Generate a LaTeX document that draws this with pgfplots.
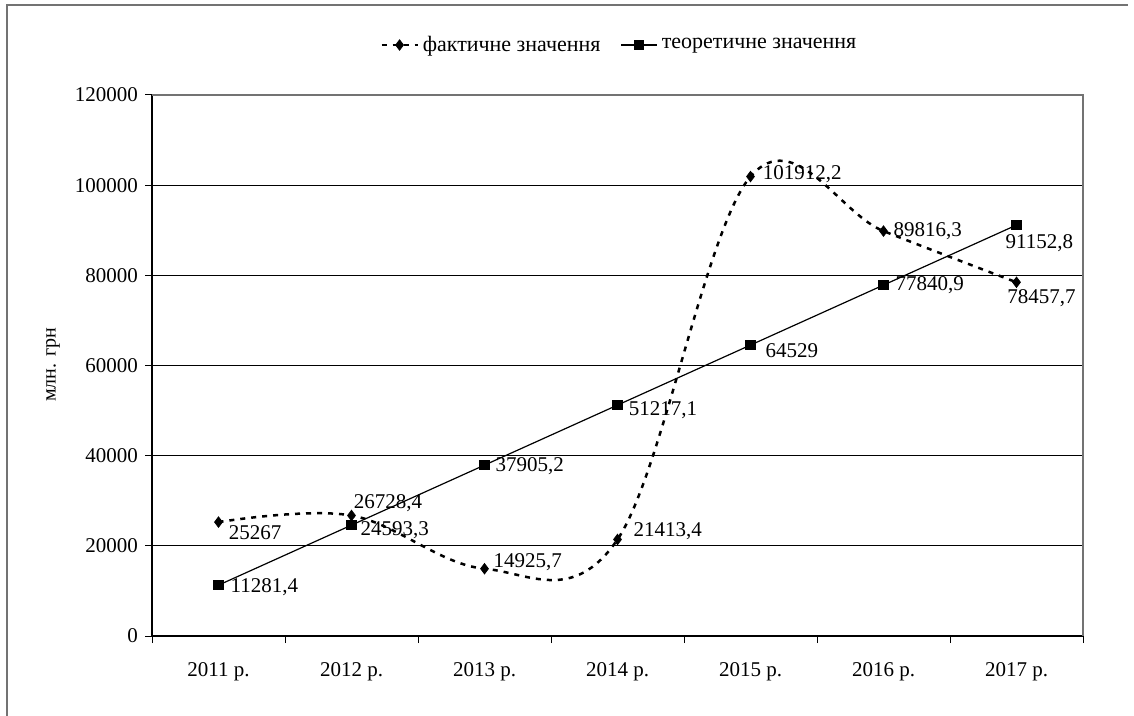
\documentclass[border=0pt]{standalone}
\usepackage{pgfplots}
\pgfplotsset{compat=1.18}
\usepackage{fontspec}
\setmainfont{Liberation Serif}
\begin{document}
\begin{tikzpicture}[font=\fontsize{10.5}{12.6}\selectfont]
\useasboundingbox (0,0) rectangle (567pt,-358pt);
\draw[black!55, line width=0.75pt] (3.5pt,-358pt) -- (3.5pt,-2.5pt) -- (564pt,-2.5pt);
\begin{axis}[
  at={(76pt,-318pt)}, anchor=south west,
  scale only axis, width=465.5pt, height=270.5pt,
  xmin=-0.5, xmax=6.5, ymin=0, ymax=120000,
  axis lines=left, axis line style={-, black, line width=0.6pt},
  xtick={0,1,2,3,4,5,6},
  xticklabels={2011 р.,2012 р.,2013 р.,2014 р.,2015 р.,2016 р.,2017 р.},
  minor xtick={-0.5,0.5,1.5,2.5,3.5,4.5,5.5,6.5},
  major x tick style={draw=none},
  minor x tick style={black, line width=0.5pt},
  major tick length=3.5pt, minor tick length=3.5pt,
  tick align=outside,
  ytick={0,20000,40000,60000,80000,100000,120000},
  yticklabels={0,20000,40000,60000,80000,100000,120000},
  scaled y ticks=false,
  y tick style={black, line width=0.5pt},
  xticklabel style={yshift=-6pt},
  ymajorgrids, grid style={black, line width=0.5pt},
  ylabel={млн. грн},
  ylabel style={at={(axis description cs:-0.1063,0.501)}, anchor=center, font=\fontsize{10}{12}\selectfont},
  legend style={at={(0.503,1.0924)}, anchor=center, draw=none, fill=none,
    font=\fontsize{11}{13}\selectfont,
    legend columns=2, /tikz/every even column/.append style={column sep=8pt}},
  legend image code/.code={\draw[mark repeat=2, mark phase=2, #1] plot coordinates {(0pt,0pt)(9pt,0pt)(18pt,0pt)};},
  clip=false,
]
\addplot[black, line width=1.25pt, dash pattern=on 2.5pt off 3pt, smooth, tension=0.6,
  mark=diamond*, mark size=2.6pt, mark options={solid, line width=0.4pt},
  nodes near coords={\pgfplotspointmeta}, point meta=explicit symbolic,
  visualization depends on={\thisrow{dx}\as\dx},
  visualization depends on={\thisrow{dy}\as\dy},
  nodes near coords style={anchor=west, inner sep=0pt, xshift=\dx pt, yshift=\dy pt}]
  table[x=x, y=y, meta=lbl] {
x y lbl dx dy
0 25267 25267 5 -5.5
1 26728.4 26728,4 1 6
2 14925.7 14925,7 4.4 3.3
3 21413.4 21413,4 7.9 4.2
4 101912.2 101912,2 6 1.2
5 89816.3 89816,3 4.9 0
6 78457.7 78457,7 -4.75 -8
};
\addlegendentry{фактичне значення}
\addplot[black, line width=0.6pt, mark=square*, mark size=2.3pt,
  nodes near coords={\pgfplotspointmeta}, point meta=explicit symbolic,
  visualization depends on={\thisrow{dx}\as\dx},
  visualization depends on={\thisrow{dy}\as\dy},
  nodes near coords style={anchor=west, inner sep=0pt, xshift=\dx pt, yshift=\dy pt}]
  table[x=x, y=y, meta=lbl] {
x y lbl dx dy
0 11281.4 11281,4 5.75 -0.8
1 24593.3 24593,3 4.25 -2.5
2 37905.2 37905,2 5.25 -0.4
3 51217.1 51217,1 5.4 -2.5
4 64529 64529 7.25 -2.9
5 77840.9 77840,9 5.75 0
6 91152.8 91152,8 -5.75 -9.2
};
\addlegendentry{теоретичне значення}
\draw[black!55, line width=0.75pt] (rel axis cs:0,1) -- (rel axis cs:1,1) -- (rel axis cs:1,0);
\end{axis}
\end{tikzpicture}
\end{document}
